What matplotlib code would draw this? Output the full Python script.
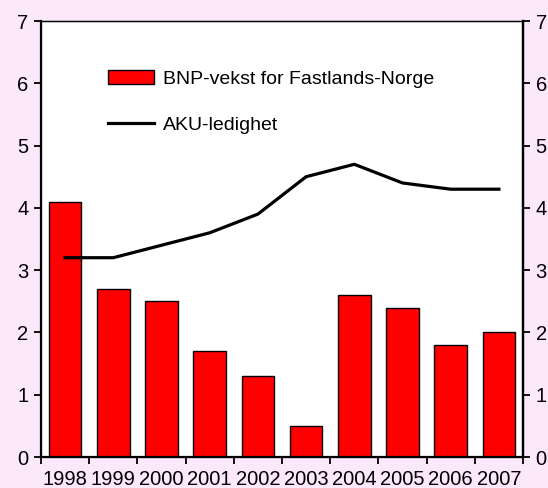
import numpy as np
import matplotlib
matplotlib.use("Agg")
import matplotlib.pyplot as plt

plt.rcParams['font.family'] = ['Liberation Sans', 'DejaVu Sans']

years = ['1998', '1999', '2000', '2001', '2002', '2003', '2004', '2005', '2006', '2007']
bnp = [4.1, 2.7, 2.5, 1.7, 1.3, 0.5, 2.6, 2.4, 1.8, 2.0]
aku = [3.2, 3.2, 3.4, 3.6, 3.9, 4.5, 4.7, 4.4, 4.3, 4.3]

bg = '#fbe8fb'
fig = plt.figure(figsize=(5.48, 4.88), dpi=100, facecolor=bg)
ax = fig.add_axes([0.0748, 0.0635, 0.8796, 0.8934])
ax.set_facecolor('white')

x = np.arange(len(years))
bars = ax.bar(x, bnp, width=0.68, color='#ff0000', edgecolor='black', linewidth=1.0,
              label='BNP-vekst for Fastlands-Norge', zorder=2)
line, = ax.plot(x, aku, color='black', linewidth=2.3, label='AKU-ledighet', zorder=3)

ax.set_xlim(-0.5, 9.5)
ax.set_ylim(0, 7)
ax.set_yticks(range(0, 8))
ax.set_xticks(np.arange(-0.5, 10, 1))
ax.set_xticklabels([])
ax.set_xticks(x, minor=True)
ax.set_xticklabels(years, minor=True)
ax.tick_params(axis='x', which='major', direction='out', length=5, width=1.3)
ax.tick_params(axis='x', which='minor', length=0, labelsize=14.5, pad=9)
ax.tick_params(axis='y', direction='out', length=5, width=1.3, labelsize=14.5, pad=4)

for s in ['left', 'bottom', 'right']:
    ax.spines[s].set_linewidth(1.6)
ax.spines['top'].set_linewidth(1.0)

ax2 = ax.twinx()
ax2.set_ylim(0, 7)
ax2.set_yticks(range(0, 8))
ax2.tick_params(axis='y', direction='out', length=5, width=1.3, labelsize=14.5, pad=4)
ax2.spines['right'].set_linewidth(1.6)

ax.legend([bars, line], [bars.get_label(), line.get_label()],
          loc='upper left', bbox_to_anchor=(0.122, 0.905), frameon=False,
          fontsize=14, labelspacing=1.45, handlelength=2.4,
          handletextpad=0.45, borderaxespad=0)

fig.savefig('out.png', dpi=100, facecolor=bg)
